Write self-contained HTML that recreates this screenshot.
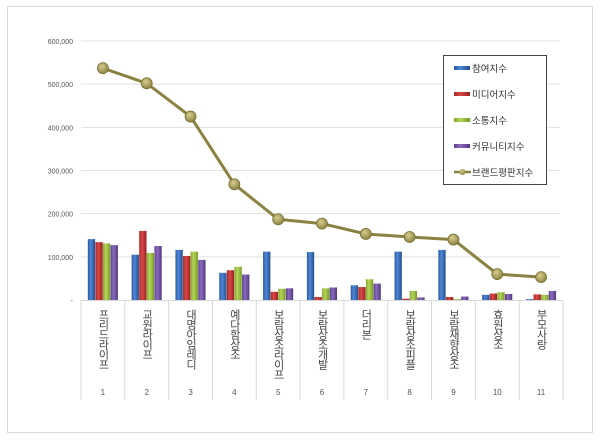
<!DOCTYPE html>
<html><head><meta charset="utf-8"><style>
body{margin:0;background:#fff;}
svg text{font-family:"Liberation Sans","Noto Sans CJK KR",sans-serif;}
</style></head><body>
<svg id="chart" width="600" height="440" xmlns="http://www.w3.org/2000/svg">
<defs>
<linearGradient id="gb" x1="0" x2="1"><stop offset="0" stop-color="#2a5aa0"/><stop offset=".4" stop-color="#4f86d6"/><stop offset="1" stop-color="#23508f"/></linearGradient>
<linearGradient id="gr" x1="0" x2="1"><stop offset="0" stop-color="#a82222"/><stop offset=".4" stop-color="#d84a48"/><stop offset="1" stop-color="#9a1f1f"/></linearGradient>
<linearGradient id="gg" x1="0" x2="1"><stop offset="0" stop-color="#84a52c"/><stop offset=".4" stop-color="#b4d65a"/><stop offset="1" stop-color="#789a26"/></linearGradient>
<linearGradient id="gp" x1="0" x2="1"><stop offset="0" stop-color="#5d3f8c"/><stop offset=".4" stop-color="#8a6bbd"/><stop offset="1" stop-color="#543780"/></linearGradient>
<radialGradient id="gm" cx=".4" cy=".35" r=".7"><stop offset="0" stop-color="#d6cc8e"/><stop offset="1" stop-color="#8a7f3e"/></radialGradient>
</defs>
<rect x="7.5" y="6.5" width="585" height="426" fill="#fff" stroke="#d9d9d9"/>
<g id="grid"></g><g id="bars"></g><g id="cats"></g><g id="line"></g>
<g>
<rect x="443.5" y="55.5" width="103" height="129" fill="#fff" stroke="#444"/>
<g id="legend"></g>
</g>
</svg>
<script>
const categories=["프리드라이프","교원라이프","대명아임레디","예다함상조","보람상조라이프","보람상조개발","더리본","보람상조피플","보람재향상조","효원상조","부모사랑"];
const ranks=["1","2","3","4","5","6","7","8","9","10","11"];
const participation=[141000,105000,116000,63000,112000,111000,34000,112000,116000,12000,2000];
const media=[134000,160000,102000,69000,19000,7000,30000,3000,7000,15000,13000];
const communication=[131000,109000,112000,77000,26000,27000,48000,21000,2000,18000,12000];
const community=[127000,125000,93000,59000,27000,29000,38000,6000,8000,14000,21000];
const reputation=[537000,502000,425000,268000,187000,177000,153000,146000,140000,60000,53000];
const yTicks=[0,100000,200000,300000,400000,500000,600000];
const seriesNames=["참여지수","미디어지수","소통지수","커뮤니티지수","브랜드평판지수"];
const NS="http://www.w3.org/2000/svg";
const X0=81,X1=563,Y0=300,YT=41,YMAX=600000;
const cw=(X1-X0)/categories.length;
const y=v=>Y0-(v/YMAX)*(Y0-YT);
const xc=i=>X0+cw*(i+0.5);
function mk(tag,attrs,parent){const e=document.createElementNS(NS,tag);for(const k in attrs)e.setAttribute(k,attrs[k]);parent.appendChild(e);return e;}
const grid=document.getElementById('grid');
yTicks.forEach(t=>{
  if(t>0){const l=mk('line',{x1:X0,x2:560,y1:y(t),y2:y(t),stroke:'#e0e0e0'},grid);
  
  }
  const tx=mk('text',{x:73,y:y(t)+3,'font-size':7,'text-anchor':'end',fill:'#555'},grid);
  tx.textContent=t===0?'-':t.toLocaleString('en-US');
  
  
});
const cats=document.getElementById('cats');
mk('line',{x1:X0,x2:X1,y1:Y0+0.5,y2:Y0+0.5,stroke:'#d9d9d9'},cats);
for(let i=0;i<=categories.length;i++){mk('line',{x1:X0+cw*i,x2:X0+cw*i,y1:Y0,y2:400,stroke:'#d9d9d9'},cats);}
categories.forEach((c,i)=>{
  const t=mk('text',{x:xc(i),y:309,'font-size':11,fill:'#444','writing-mode':'tb','glyph-orientation-vertical':0,style:'writing-mode:vertical-rl;text-orientation:upright;letter-spacing:-1px'},cats);
  t.textContent=c;
  
  
  const r=mk('text',{x:xc(i),y:395,'font-size':8,'text-anchor':'middle',fill:'#555'},cats);
  r.textContent=ranks[i];
  
  
});
const bars=document.getElementById('bars');
const series=[participation,media,communication,community];
const fills=['url(#gb)','url(#gr)','url(#gg)','url(#gp)'];
const bw=7.3;
series.forEach((s,si)=>{
  s.forEach((v,i)=>{
    const bx=xc(i)-2*bw-0.5+si*(bw+0.3);
    const b=mk('rect',{x:bx,y:y(v),width:bw,height:Y0-y(v),fill:fills[si]},bars);
    
    
  });
});
const lg=document.getElementById('line');
const pts=reputation.map((v,i)=>xc(i)+','+y(v)).join(' ');
const pl=mk('polyline',{points:pts,fill:'none',stroke:'#8a8240',"stroke-width":3},lg);


reputation.forEach((v,i)=>{
  const c=mk('circle',{cx:xc(i),cy:y(v),r:5.5,fill:'url(#gm)',stroke:'#7a7035','stroke-width':0.8},lg);
  
  
});
const leg=document.getElementById('legend');
seriesNames.forEach((n,i)=>{
  const ly=68+i*26;
  if(i<4){mk('rect',{x:454,y:ly-2,width:16,height:4,fill:fills[i]},leg);}
  else{mk('line',{x1:454,x2:471,y1:ly,y2:ly,stroke:'#8a8240','stroke-width':2.5},leg);mk('circle',{cx:462.5,cy:ly,r:3,fill:'url(#gm)'},leg);}
  const t=mk('text',{x:472,y:ly+4,'font-size':9.5,fill:'#333'},leg);
  t.textContent=n;
  
  
});
</script>
</body></html>
